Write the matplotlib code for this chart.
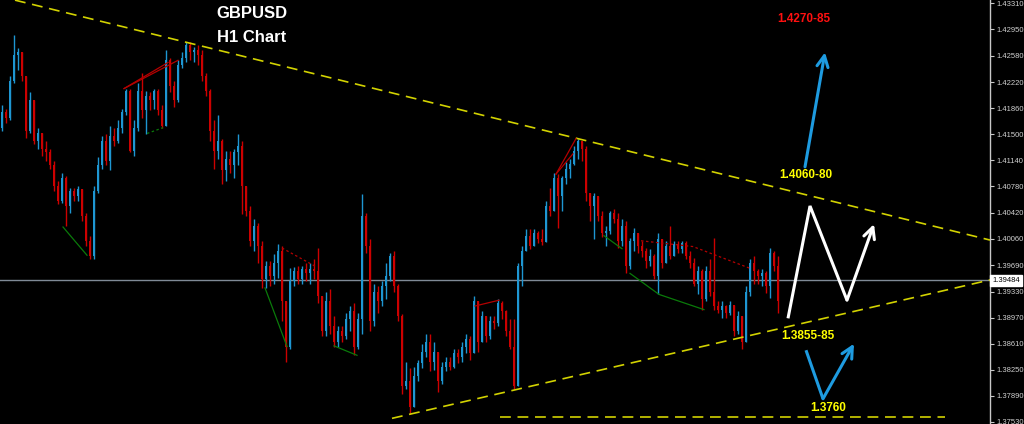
import matplotlib
matplotlib.use("Agg")
import matplotlib.pyplot as plt
import matplotlib.transforms as mtransforms
import numpy as np

# ---------------- data (GBPUSD H1) ----------------
first_open = 1.4158
closes = [
    1.4180, 1.4172, 1.4224, 1.4259, 1.4263, 1.4231, 1.4155, 1.4197, 1.4141, 1.4152,
    1.4130, 1.4125, 1.4107, 1.4079, 1.4058, 1.4089, 1.4051, 1.4072, 1.4065, 1.4075,
    1.4037, 1.4003, 1.3982, 1.4072, 1.4107, 1.4141, 1.4113, 1.4148, 1.4141, 1.4158,
    1.4180, 1.4210, 1.4127, 1.4158, 1.4210, 1.4183, 1.4203, 1.4197, 1.4210, 1.4183,
    1.4162, 1.4252, 1.4217, 1.4197, 1.4245, 1.4255, 1.4273, 1.4263, 1.4266, 1.4259,
    1.4231, 1.4210, 1.4155, 1.4127, 1.4141, 1.4100, 1.4116, 1.4107, 1.4125, 1.4134,
    1.4079, 1.4044, 1.4003, 1.4023, 1.3996, 1.3950, 1.3968, 1.3954, 1.3972, 1.3989,
    1.3920, 1.3857, 1.3947, 1.3961, 1.3950, 1.3964, 1.3958, 1.3964, 1.3961, 1.3927,
    1.3878, 1.3920, 1.3885, 1.3864, 1.3878, 1.3871, 1.3895, 1.3906, 1.3857, 1.3895,
    1.4037, 1.3996, 1.3892, 1.3933, 1.3920, 1.3940, 1.3954, 1.3982, 1.3940, 1.3899,
    1.3802, 1.3809, 1.3774, 1.3816, 1.3834, 1.3850, 1.3864, 1.3836, 1.3850, 1.3809,
    1.3829, 1.3836, 1.3829, 1.3848, 1.3842, 1.3857, 1.3867, 1.3848, 1.3920, 1.3864,
    1.3899, 1.3871, 1.3892, 1.3889, 1.3917, 1.3906, 1.3878, 1.3857, 1.3802, 1.3968,
    1.3989, 1.4010, 1.3996, 1.4014, 1.4005, 1.4001, 1.4051, 1.4044, 1.4089, 1.4065,
    1.4089, 1.4102, 1.4109, 1.4127, 1.4141, 1.4130, 1.4069, 1.4051, 1.4065, 1.4037,
    1.4014, 1.4017, 1.4041, 1.4033, 1.4003, 1.4023, 1.3968, 1.4003, 1.4014, 1.3996,
    1.3989, 1.3975, 1.3982, 1.3954, 1.4005, 1.3972, 1.3996, 1.3982, 1.3998, 1.3992,
    1.4000, 1.3982, 1.3972, 1.3944, 1.3961, 1.3922, 1.3961, 1.3933, 1.3913, 1.3908,
    1.3913, 1.3903, 1.3915, 1.3878, 1.3899, 1.3864, 1.3933, 1.3972, 1.3961, 1.3954,
    1.3958, 1.3940, 1.3986, 1.3968, 1.3920,
]
highs = [
    1.4190, 1.4185, 1.4231, 1.4287, 1.4269, 1.4259, 1.4224, 1.4208, 1.4197, 1.4158,
    1.4152, 1.4141, 1.4130, 1.4113, 1.4086, 1.4097, 1.4093, 1.4076, 1.4076, 1.4079,
    1.4075, 1.4041, 1.4010, 1.4079, 1.4118, 1.4148, 1.4151, 1.4162, 1.4159, 1.4169,
    1.4185, 1.4213, 1.4213, 1.4169, 1.4221, 1.4234, 1.4210, 1.4208, 1.4213, 1.4213,
    1.4190, 1.4266, 1.4255, 1.4224, 1.4252, 1.4263, 1.4277, 1.4277, 1.4271, 1.4273,
    1.4266, 1.4235, 1.4213, 1.4169, 1.4176, 1.4144, 1.4127, 1.4127, 1.4130, 1.4151,
    1.4141, 1.4079, 1.4051, 1.4033, 1.4028, 1.4003, 1.3975, 1.3975, 1.3985, 1.3998,
    1.3996, 1.3920, 1.3965, 1.3967, 1.3968, 1.3968, 1.3972, 1.3972, 1.3978, 1.3993,
    1.3927, 1.3933, 1.3936, 1.3899, 1.3885, 1.3885, 1.3903, 1.3913, 1.3917, 1.3903,
    1.4068, 1.4041, 1.4005, 1.3943, 1.3940, 1.3947, 1.3972, 1.3986, 1.3989, 1.3943,
    1.3902, 1.3836, 1.3827, 1.3829, 1.3839, 1.3860, 1.3874, 1.3874, 1.3864, 1.3848,
    1.3836, 1.3843, 1.3843, 1.3853, 1.3853, 1.3864, 1.3874, 1.3871, 1.3927, 1.3920,
    1.3906, 1.3899, 1.3899, 1.3899, 1.3922, 1.3920, 1.3908, 1.3895, 1.3895, 1.3972,
    1.3996, 1.4019, 1.4019, 1.4019, 1.4017, 1.4019, 1.4058, 1.4076, 1.4097, 1.4095,
    1.4093, 1.4111, 1.4116, 1.4134, 1.4144, 1.4141, 1.4134, 1.4065, 1.4069, 1.4058,
    1.4044, 1.4023, 1.4044, 1.4047, 1.4041, 1.4033, 1.4030, 1.4007, 1.4021, 1.4014,
    1.4003, 1.3993, 1.3992, 1.3985, 1.4014, 1.3998, 1.4003, 1.4023, 1.4003, 1.4003,
    1.4003, 1.4003, 1.3989, 1.3979, 1.3968, 1.3964, 1.3968, 1.3978, 1.4007, 1.3920,
    1.3920, 1.3915, 1.3920, 1.3913, 1.3906, 1.3899, 1.3940, 1.3978, 1.3982, 1.3964,
    1.3964, 1.3961, 1.3993, 1.3989, 1.3982,
]
lows = [
    1.4155, 1.4166, 1.4169, 1.4221, 1.4238, 1.4224, 1.4145, 1.4152, 1.4137, 1.4130,
    1.4120, 1.4113, 1.4102, 1.4072, 1.4054, 1.4055, 1.4023, 1.4041, 1.4058, 1.4058,
    1.4030, 1.3996, 1.3978, 1.3978, 1.4069, 1.4102, 1.4107, 1.4100, 1.4134, 1.4138,
    1.4152, 1.4176, 1.4125, 1.4120, 1.4155, 1.4172, 1.4151, 1.4183, 1.4185, 1.4176,
    1.4158, 1.4162, 1.4208, 1.4187, 1.4194, 1.4241, 1.4249, 1.4252, 1.4249, 1.4245,
    1.4224, 1.4203, 1.4141, 1.4102, 1.4116, 1.4082, 1.4086, 1.4097, 1.4090, 1.4107,
    1.4040, 1.4037, 1.3996, 1.3989, 1.3972, 1.3938, 1.3938, 1.3940, 1.3943, 1.3951,
    1.3892, 1.3836, 1.3854, 1.3940, 1.3943, 1.3944, 1.3947, 1.3944, 1.3950, 1.3917,
    1.3871, 1.3871, 1.3875, 1.3857, 1.3857, 1.3864, 1.3867, 1.3878, 1.3846, 1.3853,
    1.3874, 1.3986, 1.3878, 1.3885, 1.3903, 1.3913, 1.3922, 1.3947, 1.3933, 1.3892,
    1.3791, 1.3799, 1.3764, 1.3774, 1.3809, 1.3827, 1.3843, 1.3823, 1.3825, 1.3795,
    1.3806, 1.3823, 1.3825, 1.3828, 1.3834, 1.3836, 1.3848, 1.3839, 1.3848, 1.3850,
    1.3864, 1.3864, 1.3867, 1.3881, 1.3885, 1.3895, 1.3871, 1.3853, 1.3799, 1.3802,
    1.3940, 1.3989, 1.3992, 1.3996, 1.4000, 1.3997, 1.4010, 1.4037, 1.4044, 1.4021,
    1.4044, 1.4082, 1.4090, 1.4107, 1.4116, 1.4113, 1.4058, 1.4030, 1.4005, 1.4030,
    1.4008, 1.3996, 1.4012, 1.4028, 1.3993, 1.3996, 1.3958, 1.3964, 1.3989, 1.3986,
    1.3981, 1.3966, 1.3968, 1.3950, 1.3929, 1.3965, 1.3972, 1.3978, 1.3982, 1.3986,
    1.3986, 1.3978, 1.3966, 1.3940, 1.3929, 1.3908, 1.3920, 1.3927, 1.3908, 1.3903,
    1.3897, 1.3897, 1.3900, 1.3871, 1.3875, 1.3854, 1.3864, 1.3927, 1.3943, 1.3944,
    1.3940, 1.3931, 1.3924, 1.3961, 1.3903,
]

current_price = 1.39484
price_ticks = [1.43310, 1.42950, 1.42580, 1.42220, 1.41860, 1.41500, 1.41140,
               1.40780, 1.40420, 1.40060, 1.39690, 1.39330, 1.38970, 1.38610,
               1.38250, 1.37890, 1.37530]

# trend lines (bar index, price)
upper_trend = [(3.25, 1.4335), (247.0, 1.4004)]
lower_trend = [(97.5, 1.3758), (247.0, 1.3949)]
support_level = 1.3760
support_span = (124.5, 235.75)

# small pattern lines drawn on the chart
red_lines = [
    [(30.5, 1.4213), (41.5, 1.4249)],
    [(30.5, 1.4213), (44.0, 1.4252)],
    [(118.25, 1.3913), (124.25, 1.3921)],
    [(138.5, 1.4095), (143.5, 1.4144)],
    [(138.5, 1.4095), (142.75, 1.4123)],
]
red_dotted = [
    [(70.0, 1.3993), (78.25, 1.3968)],
    [(159.75, 1.4003), (172.75, 1.3995), (187.0, 1.3965)],
]
green_lines = [
    [(15.25, 1.4022), (21.25, 1.3983)],
    [(65.75, 1.3938), (71.25, 1.3857)],
    [(83.0, 1.3858), (88.75, 1.3845)],
    [(150.5, 1.4010), (155.0, 1.3992)],
    [(157.0, 1.3958), (164.25, 1.3929), (175.5, 1.3908)],
]
green_dashed = [[(36.25, 1.4151), (40.25, 1.4159)]]

# scenario arrows
blue_up = [(200.75, 1.4105), (205.75, 1.4263)]
white_zigzag = [(196.5, 1.3896), (202.0, 1.4051), (211.25, 1.3921), (218.0, 1.4026)]
blue_v = [(201.0, 1.3852), (205.25, 1.3785), (213.0, 1.3861)]

# ---------------- figure ----------------
W, H = 1024, 424
fig = plt.figure(figsize=(W / 100, H / 100), dpi=100, facecolor="black")
ax = fig.add_axes([0, 0, 990 / W, 1])
ax.set_facecolor("black")
ax.set_xlim(-0.5, 247)
ax.set_ylim(1.37502, 1.43352)

UP = "#1e96d2"
DOWN = "#cc0000"

n = len(closes)
idx = np.arange(n)
opens = np.array([first_open] + closes[:-1])
cl = np.array(closes)
hi = np.maximum(np.array(highs), np.maximum(opens, cl))
lo = np.minimum(np.array(lows), np.minimum(opens, cl))
cols = [UP if c >= o else DOWN for o, c in zip(opens, cl)]
bottoms = np.minimum(opens, cl)
heights = np.maximum(np.abs(cl - opens), 0.00005)

ax.vlines(idx, lo, hi, colors=cols, linewidth=1.0, zorder=2)
ax.bar(idx, heights, bottom=bottoms, width=0.68, color=cols, linewidth=0, zorder=3)

# bid line
ax.axhline(current_price, color="#7f8a96", linewidth=1.0, zorder=1)

# trend lines
YEL = "#d2d200"
for line in (upper_trend, lower_trend):
    xs, ys = zip(*line)
    ax.plot(xs, ys, color=YEL, linewidth=1.2, linestyle=(0, (6.5, 4)), zorder=4)
ax.plot(support_span, [support_level, support_level], color=YEL, linewidth=1.2,
        linestyle=(0, (6.5, 4)), zorder=4)

for line in red_lines:
    xs, ys = zip(*line)
    ax.plot(xs, ys, color="#b40000", linewidth=0.9, zorder=4)
for line in red_dotted:
    xs, ys = zip(*line)
    ax.plot(xs, ys, color="#b40000", linewidth=0.9, linestyle=(0, (2, 2)), zorder=4)
for line in green_lines:
    xs, ys = zip(*line)
    ax.plot(xs, ys, color="#0a7a0a", linewidth=0.9, zorder=4)
for line in green_dashed:
    xs, ys = zip(*line)
    ax.plot(xs, ys, color="#0a7a0a", linewidth=0.9, linestyle=(0, (2, 2)), zorder=4)

# arrows
def arrow_path(points, color):
    xs, ys = zip(*points)
    ax.plot(xs[:-1], ys[:-1], color=color, linewidth=2.2, solid_capstyle="butt",
            solid_joinstyle="miter", zorder=6)
    ax.annotate("", xy=points[-1], xytext=points[-2],
                arrowprops=dict(arrowstyle="->,head_length=0.8,head_width=0.4",
                                color=color, lw=2.2, shrinkA=0, shrinkB=0),
                zorder=6)

arrow_path(blue_up, "#1e9be0")
arrow_path(white_zigzag, "white")
arrow_path(blue_v, "#1e9be0")

# texts
def ftext(px, py, s, color, size):
    fig.text(px / W, 1 - py / H, s, color=color, fontsize=size, fontweight="bold",
             family="Liberation Sans", ha="center", va="center")

ftext(252, 13, "GBPUSD", "white", 12)
ftext(252, 37, "H1 Chart", "white", 12)
ftext(804, 19, "1.4270-85", "#ff1010", 8.5)
ftext(806, 175, "1.4060-80", "#ffff00", 8.5)
ftext(808, 336, "1.3855-85", "#ffff00", 8.5)
ftext(828, 408, "1.3760", "#ffff00", 8.5)

# axis styling
for s in ("left", "top", "bottom"):
    ax.spines[s].set_visible(False)
ax.spines["right"].set_color("#c8c8c8")
ax.spines["right"].set_linewidth(1.0)
ax.set_xticks([])
ax.yaxis.tick_right()
ax.set_yticks(price_ticks)
ax.set_yticklabels([f"{p:.5f}" for p in price_ticks])
ax.tick_params(axis="y", colors="#c8c8c8", labelcolor="#d0d0d0", length=3, width=0.8,
               pad=2, labelsize=5.5)
for lab in ax.get_yticklabels():
    lab.set_family("Liberation Sans")

trans = mtransforms.blended_transform_factory(ax.transAxes, ax.transData)
ax.text(1.002, current_price, f"{current_price:.5f}", transform=trans, ha="left",
        va="center", fontsize=5.5, family="Liberation Sans", color="black",
        bbox=dict(boxstyle="square,pad=0.25", fc="white", ec="white"), clip_on=False,
        zorder=10)

fig.savefig("out.png", dpi=100, facecolor="black")
